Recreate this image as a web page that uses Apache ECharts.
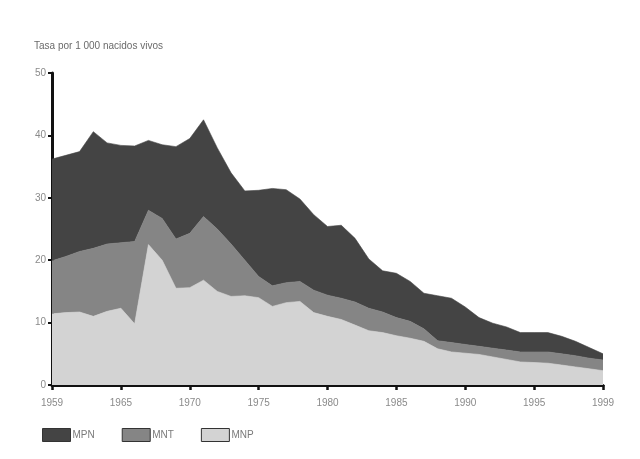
<!DOCTYPE html>
<html><head><meta charset="utf-8">
<script src="https://cdn.jsdelivr.net/npm/echarts@6/dist/echarts.min.js"></script>
<style>html,body{margin:0;padding:0;background:#fff}#c{width:640px;height:459px}</style>
</head><body><div id="c"></div>
<script>
var years = [];
for (var y = 1959; y <= 1999; y++) years.push(String(y));
var tickLabels = ['1959','1965','1970','1975','1980','1985','1990','1995','1999'];
var yTicks = [0,10,20,30,40,50];
var MNP = [11.4,11.6,11.7,11.0,11.8,12.3,9.8,22.5,20.0,15.5,15.6,16.8,15.0,14.2,14.3,14.0,12.6,13.2,13.4,11.6,11.0,10.5,9.6,8.7,8.4,7.9,7.5,7.0,5.8,5.3,5.1,4.9,4.5,4.1,3.7,3.6,3.5,3.2,2.9,2.6,2.3];
var MNT = [8.5,9.0,9.7,10.9,10.8,10.5,13.2,5.5,6.7,7.9,8.7,10.2,10.0,8.4,5.7,3.4,3.3,3.2,3.2,3.6,3.4,3.4,3.7,3.6,3.3,2.9,2.7,2.0,1.3,1.5,1.4,1.3,1.4,1.5,1.6,1.7,1.8,1.8,1.8,1.7,1.7];
var MPN = [16.3,16.2,16.0,18.7,16.2,15.6,15.3,11.2,11.8,14.8,15.2,15.5,13.0,11.4,11.1,13.8,15.6,14.9,13.2,12.1,11.0,11.7,10.2,7.9,6.6,7.1,6.4,5.7,7.2,7.1,6.0,4.6,4.0,3.7,3.1,3.1,3.1,2.8,2.3,1.7,1.0];

var chart = echarts.init(document.getElementById('c'), null, {renderer:'canvas'});
var font = 'Liberation Sans';
function area(name, data, color) {
  return {
    name: name, type: 'line', stack: 'total', data: data,
    symbol: 'none', smooth: false,
    lineStyle: {width: 0.6, color: color},
    itemStyle: {color: color},
    areaStyle: {color: color, opacity: 1}
  };
}
chart.setOption({
  animation: false,
  backgroundColor: '#fff',
  title: {
    text: 'Tasa por 1 000 nacidos vivos', left: 29, top: 36,
    textStyle: {fontFamily: font, fontSize: 10, fontWeight: 'normal', color: '#6a6a6a'}
  },
  legend: {
    left: 37, top: 423, itemWidth: 28, itemHeight: 13, itemGap: 27,
    data: ['MPN','MNT','MNP'],
    icon: 'rect',
    itemStyle: {borderColor: '#333', borderWidth: 1},
    textStyle: {fontFamily: font, fontSize: 10, color: '#7a7a7a', padding: [0,0,0,-3]}
  },
  grid: {left: 52, right: 37, top: 73, bottom: 74, containLabel: false},
  xAxis: {
    type: 'category', data: years, boundaryGap: false,
    axisLine: {lineStyle: {color: '#111', width: 3}},
    axisTick: {show: true, interval: 4, length: 5, lineStyle: {color: '#111', width: 2.5}},
    axisLabel: {
      interval: 4, margin: 13, fontFamily: font, fontSize: 10, color: '#8a8a8a',
      formatter: function (v, i) { return tickLabels[Math.round(i / 5)] || ''; }
    },
    splitLine: {show: false}
  },
  yAxis: {
    type: 'value', min: yTicks[0], max: yTicks[yTicks.length-1], interval: 10,
    axisLine: {show: true, lineStyle: {color: '#111', width: 3}},
    axisTick: {show: true, length: 4, lineStyle: {color: '#111', width: 2}},
    axisLabel: {fontFamily: font, fontSize: 10, color: '#8a8a8a', margin: 6},
    splitLine: {show: false}
  },
  series: [
    area('MNP', MNP, '#d3d3d3'),
    area('MNT', MNT, '#858585'),
    area('MPN', MPN, '#444444')
  ]
});
</script></body></html>
